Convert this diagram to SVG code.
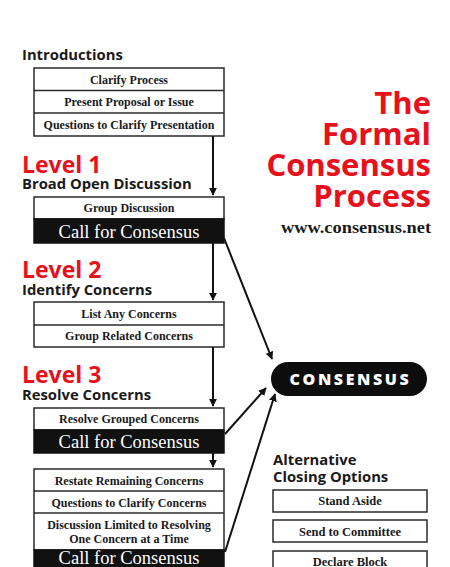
<svg xmlns="http://www.w3.org/2000/svg" width="450" height="567" viewBox="0 0 450 567">
<defs>
<style>
.h{font-family:"Open Sans","Liberation Sans",sans-serif;font-weight:bold;font-size:14.8px;fill:#1a1a1a}
.lv{font-family:"Open Sans","Liberation Sans",sans-serif;font-weight:bold;font-size:23px;fill:#e8101a}
.t{font-family:"Open Sans","Liberation Sans",sans-serif;font-weight:bold;font-size:31px;fill:#e8101a;text-anchor:end}
.s{font-family:"Liberation Serif","DejaVu Serif",serif;font-weight:bold;font-size:12px;fill:#1a1a1a;text-anchor:middle}
.c{font-family:"Liberation Serif","DejaVu Serif",serif;font-size:18.5px;fill:#fff;text-anchor:middle}
.box{fill:#fff;stroke:#2a2a2a;stroke-width:1.5}
.blk{fill:#111;stroke:#111;stroke-width:1.5}
.ln{stroke:#2a2a2a;stroke-width:1.5}
.ar{stroke:#111;stroke-width:2;fill:none;marker-end:url(#ah)}
</style>
<marker id="ah" viewBox="0 0 10 10" refX="9" refY="5" markerWidth="4" markerHeight="4" orient="auto-start-reverse">
<path d="M0,0 L10,5 L0,10 z" fill="#111"/>
</marker>
</defs>
<rect width="450" height="567" fill="#fff"/>

<g id="title">
<text class="t" x="431" y="114">The</text>
<text class="t" x="431" y="145">Formal</text>
<text class="t" x="431" y="176">Consensus</text>
<text class="t" x="431" y="207">Process</text>
<text x="431" y="233" textLength="150" lengthAdjust="spacingAndGlyphs" style="font-family:'Liberation Serif',serif;font-weight:bold;font-size:16px;fill:#1a1a1a;text-anchor:end">www.consensus.net</text>
</g>

<g id="intro">
<text class="h" x="22" y="60">Introductions</text>
<rect class="box" x="34" y="68" width="190" height="68"/>
<line class="ln" x1="34" y1="90.5" x2="224" y2="90.5"/>
<line class="ln" x1="34" y1="113" x2="224" y2="113"/>
<text class="s" x="129" y="83.5">Clarify Process</text>
<text class="s" x="129" y="106">Present Proposal or Issue</text>
<text class="s" x="129" y="128.5">Questions to Clarify Presentation</text>
</g>

<g id="level1">
<text class="lv" x="22" y="173">Level 1</text>
<text class="h" x="22" y="189">Broad Open Discussion</text>
<rect class="box" x="34" y="197" width="190" height="22"/>
<rect class="blk" x="34" y="219" width="190" height="24"/>
<text class="s" x="129" y="212">Group Discussion</text>
<text class="c" x="129" y="237.5">Call for Consensus</text>
</g>

<g id="level2">
<text class="lv" x="22" y="278">Level 2</text>
<text class="h" x="22" y="295">Identify Concerns</text>
<rect class="box" x="34" y="302" width="190" height="45"/>
<line class="ln" x1="34" y1="325" x2="224" y2="325"/>
<text class="s" x="129" y="317.5">List Any Concerns</text>
<text class="s" x="129" y="340">Group Related Concerns</text>
</g>

<g id="level3">
<text class="lv" x="22" y="383">Level 3</text>
<text class="h" x="22" y="400">Resolve Concerns</text>
<rect class="box" x="34" y="408" width="190" height="22"/>
<rect class="blk" x="34" y="430" width="190" height="23"/>
<text class="s" x="129" y="423">Resolve Grouped Concerns</text>
<text class="c" x="129" y="448">Call for Consensus</text>
</g>

<g id="level3b">
<rect class="box" x="34" y="469" width="190" height="81"/>
<line class="ln" x1="34" y1="491" x2="224" y2="491"/>
<line class="ln" x1="34" y1="513" x2="224" y2="513"/>
<rect class="blk" x="34" y="550" width="190" height="20"/>
<text class="s" x="129" y="484.5">Restate Remaining Concerns</text>
<text class="s" x="129" y="506.5">Questions to Clarify Concerns</text>
<text class="s" x="129" y="528.5">Discussion Limited to Resolving</text>
<text class="s" x="129" y="542.5">One Concern at a Time</text>
<text class="c" x="129" y="564">Call for Consensus</text>
</g>

<g id="consensus">
<rect x="271" y="362" width="156" height="34" rx="17" fill="#0d0d0d"/>
<text x="350.5" y="385" style="font-family:'Open Sans','Liberation Sans',sans-serif;font-weight:800;font-size:16px;fill:#fff;text-anchor:middle;letter-spacing:2.6px">CONSENSUS</text>
</g>

<g id="alternatives">
<text class="h" x="273" y="465">Alternative</text>
<text class="h" x="273" y="482">Closing Options</text>
<rect class="box" x="273" y="490" width="154" height="22"/>
<text class="s" x="350" y="505" style="font-size:12.5px">Stand Aside</text>
<rect class="box" x="273" y="520" width="154" height="22"/>
<text class="s" x="350" y="535.5" style="font-size:12.5px">Send to Committee</text>
<rect class="box" x="273" y="551" width="154" height="22"/>
<text class="s" x="350" y="566" style="font-size:12.5px">Declare Block</text>
</g>

<g id="connectors">
<line class="ar" x1="213" y1="136" x2="213" y2="195"/>
<line class="ar" x1="213" y1="243" x2="213" y2="300"/>
<line class="ar" x1="213" y1="347" x2="213" y2="406"/>
<line class="ar" x1="213" y1="453" x2="213" y2="467"/>
<line class="ar" x1="224" y1="238" x2="272" y2="359"/>
<line class="ar" x1="225" y1="434" x2="266" y2="388"/>
<line class="ar" x1="225" y1="552" x2="275" y2="394"/>
</g>
</svg>
